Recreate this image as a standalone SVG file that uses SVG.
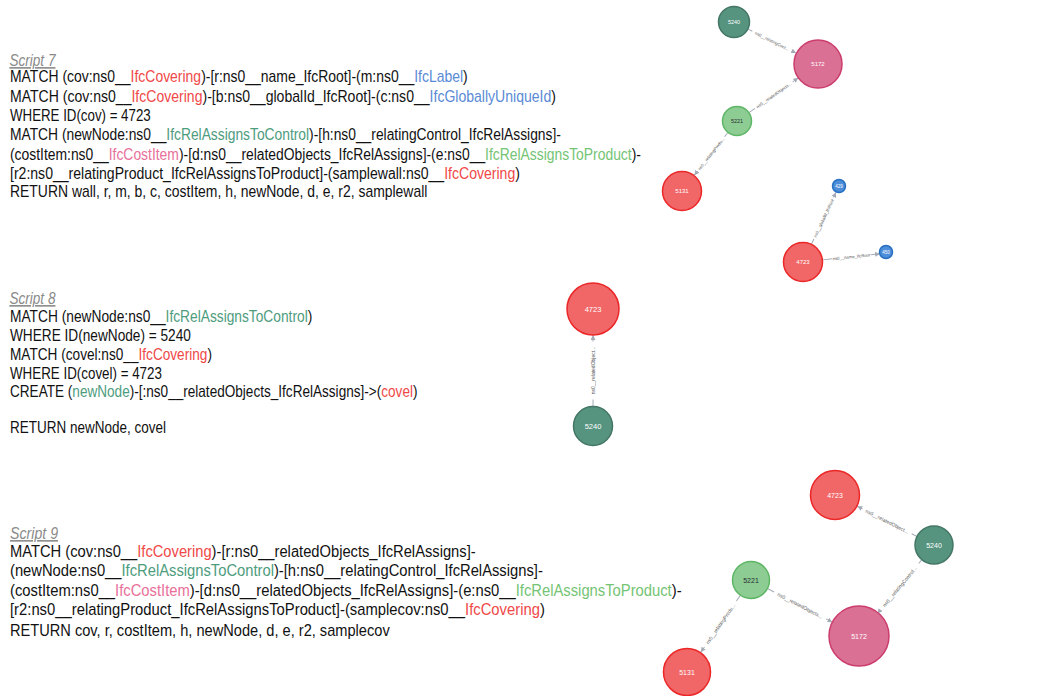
<svg xmlns="http://www.w3.org/2000/svg" width="1058" height="696" viewBox="0 0 1058 696">
<defs>
<marker id="arr" viewBox="0 0 6 6" refX="6" refY="3" markerWidth="5" markerHeight="5" markerUnits="userSpaceOnUse" orient="auto"><path d="M0,0 L6,3 L0,6 z" fill="#A5ABB6"/></marker>
<style>
.q{font-family:"Liberation Sans",Arial,sans-serif;font-size:16px;fill:#111}
.h{font-family:"Liberation Sans",Arial,sans-serif;font-size:16px;fill:#8a8a8a;font-style:italic;text-decoration:underline}
.red{fill:#F04848}.tc{fill:#4E9C7E}.pk{fill:#E8709A}.lg{fill:#74C474}.bl{fill:#5A8AD6}
.e line{stroke:#A5ABB6;stroke-width:1}
.e text{font-family:"Liberation Sans",Arial,sans-serif;fill:#555;text-anchor:middle}
.s text{font-size:4.2px}.b text{font-size:5px}
.n text{font-family:"Liberation Sans",Arial,sans-serif;fill:#fff;text-anchor:middle;dominant-baseline:central}
.red1{fill:#F16667;stroke:#EB2728;stroke-width:1.5}
.dg{fill:#569480;stroke:#447666;stroke-width:1.5}
.pkn{fill:#DA7194;stroke:#CC3C6C;stroke-width:1.5}
.lgn{fill:#8DCC93;stroke:#5DB665;stroke-width:1.5}
.bln{fill:#4C8EDA;stroke:#2870C2;stroke-width:1.5}
</style>
</defs>
<rect width="1058" height="696" fill="#fff"/>
<g id="script7">
<text class="h" transform="scale(0.85,1)" x="11.06" y="66">Script 7</text>
<text class="q" transform="scale(0.872,1)" x="11.47" y="82">MATCH (cov:ns0__<tspan class="red">IfcCovering</tspan>)-[r:ns0__name_IfcRoot]-(m:ns0__<tspan class="bl">IfcLabel</tspan>)</text>
<text class="q" transform="scale(0.878,1)" x="11.39" y="102">MATCH (cov:ns0__<tspan class="red">IfcCovering</tspan>)-[b:ns0__globalId_IfcRoot]-(c:ns0__<tspan class="bl">IfcGloballyUniqueId</tspan>)</text>
<text class="q" transform="scale(0.831,1)" x="12.03" y="121">WHERE ID(cov) = 4723</text>
<text class="q" transform="scale(0.864,1)" x="11.57" y="140">MATCH (newNode:ns0__<tspan class="tc">IfcRelAssignsToControl</tspan>)-[h:ns0__relatingControl_IfcRelAssigns]-</text>
<text class="q" transform="scale(0.868,1)" x="11.52" y="160">(costItem:ns0__<tspan class="pk">IfcCostItem</tspan>)-[d:ns0__relatedObjects_IfcRelAssigns]-(e:ns0__<tspan class="lg">IfcRelAssignsToProduct</tspan>)-</text>
<text class="q" transform="scale(0.879,1)" x="11.38" y="179">[r2:ns0__relatingProduct_IfcRelAssignsToProduct]-(samplewall:ns0__<tspan class="red">IfcCovering</tspan>)</text>
<text class="q" transform="scale(0.871,1)" x="11.48" y="197">RETURN wall, r, m, b, c, costItem, h, newNode, d, e, r2, samplewall</text>
</g>
<g id="script8">
<text class="h" transform="scale(0.85,1)" x="11.06" y="304">Script 8</text>
<text class="q" transform="scale(0.86,1)" x="11.63" y="322">MATCH (newNode:ns0__<tspan class="tc">IfcRelAssignsToControl</tspan>)</text>
<text class="q" transform="scale(0.854,1)" x="11.71" y="341">WHERE ID(newNode) = 5240</text>
<text class="q" transform="scale(0.852,1)" x="11.74" y="360">MATCH (covel:ns0__<tspan class="red">IfcCovering</tspan>)</text>
<text class="q" transform="scale(0.836,1)" x="11.96" y="379">WHERE ID(covel) = 4723</text>
<text class="q" transform="scale(0.849,1)" x="11.78" y="397">CREATE (<tspan class="tc">newNode</tspan>)-[:ns0__relatedObjects_IfcRelAssigns]-&gt;(<tspan class="red">covel</tspan>)</text>
<text class="q" transform="scale(0.844,1)" x="11.85" y="433">RETURN newNode, covel</text>
</g>
<g id="script9">
<text class="h" transform="scale(0.886,1)" x="11.29" y="539">Script 9</text>
<text class="q" transform="scale(0.92,1)" x="10.87" y="557">MATCH (cov:ns0__<tspan class="red">IfcCovering</tspan>)-[r:ns0__relatedObjects_IfcRelAssigns]-</text>
<text class="q" transform="scale(0.923,1)" x="10.83" y="576">(newNode:ns0__<tspan class="tc">IfcRelAssignsToControl</tspan>)-[h:ns0__relatingControl_IfcRelAssigns]-</text>
<text class="q" transform="scale(0.924,1)" x="10.82" y="596">(costItem:ns0__<tspan class="pk">IfcCostItem</tspan>)-[d:ns0__relatedObjects_IfcRelAssigns]-(e:ns0__<tspan class="lg">IfcRelAssignsToProduct</tspan>)-</text>
<text class="q" transform="scale(0.926,1)" x="10.8" y="615">[r2:ns0__relatingProduct_IfcRelAssignsToProduct]-(samplecov:ns0__<tspan class="red">IfcCovering</tspan>)</text>
<text class="q" transform="scale(0.914,1)" x="10.94" y="636">RETURN cov, r, costItem, h, newNode, d, e, r2, samplecov</text>
</g>
<g id="connectors">
<g class="e s">
<g transform="translate(734,22) rotate(26.6)"><line x1="16" y1="0" x2="20.5" y2="0"/><line x1="64.5" y1="0" x2="69.5" y2="0" marker-end="url(#arr)"/><text x="42.5" y="1.5">ns0__relatingCont...</text></g>
<g transform="translate(737,121) rotate(-35.1)"><line x1="15" y1="0" x2="22" y2="0"/><line x1="68" y1="0" x2="75" y2="0" marker-end="url(#arr)"/><text x="45" y="1.5">ns0__relatedObjects...</text></g>
<g transform="translate(737,121) rotate(128.2)"><line x1="15" y1="0" x2="20" y2="0"/><line x1="64" y1="0" x2="69" y2="0" marker-end="url(#arr)"/><text x="42" y="1.5" transform="rotate(180 42 0)">ns0__relatingProdu...</text></g>
<g transform="translate(803,262) rotate(-64.7)"><line x1="20" y1="0" x2="25.5" y2="0"/><line x1="71.5" y1="0" x2="77" y2="0" marker-end="url(#arr)"/><text x="48.5" y="1.5">ns0__globalId_IfcRoot</text></g>
<g transform="translate(803,262) rotate(-6.1)"><line x1="20" y1="0" x2="29.5" y2="0"/><line x1="68" y1="0" x2="77.5" y2="0" marker-end="url(#arr)"/><text x="48.7" y="1.5">ns0__name_IfcRoot</text></g>
</g>
<g class="e b">
<g transform="translate(593,426) rotate(-90)"><line x1="20" y1="0" x2="26.5" y2="0"/><line x1="84.5" y1="0" x2="91" y2="0" marker-end="url(#arr)"/><text x="55.5" y="1.8">ns0__relatedObject...</text></g>
<g transform="translate(934,545) rotate(206.8)"><line x1="19" y1="0" x2="25" y2="0"/><line x1="80" y1="0" x2="85.9" y2="0" marker-end="url(#arr)"/><text x="52.5" y="1.8" transform="rotate(180 52.5 0)">ns0__relatedObject...</text></g>
<g transform="translate(934,545) rotate(129.5)"><line x1="19" y1="0" x2="24" y2="0"/><line x1="84" y1="0" x2="88.9" y2="0" marker-end="url(#arr)"/><text x="54" y="1.8" transform="rotate(180 54 0)">ns0__relatingControl...</text></g>
<g transform="translate(751,580) rotate(27.4)"><line x1="19" y1="0" x2="26" y2="0"/><line x1="84.5" y1="0" x2="91.7" y2="0" marker-end="url(#arr)"/><text x="55.3" y="1.8">ns0__relatedObjects...</text></g>
<g transform="translate(751,580) rotate(124.8)"><line x1="19" y1="0" x2="25.5" y2="0"/><line x1="81.5" y1="0" x2="88" y2="0" marker-end="url(#arr)"/><text x="53.5" y="1.8" transform="rotate(180 53.5 0)">ns0__relatingProdu...</text></g>
</g>
</g>
<g id="g7-5240" class="n"><circle cx="734" cy="22" r="15.5" class="dg"/><text x="734" y="22" font-size="5.5">5240</text></g>
<g id="g7-5172" class="n"><circle cx="818" cy="64" r="24" class="pkn"/><text x="818" y="64" font-size="6">5172</text></g>
<g id="g7-5221" class="n"><circle cx="737" cy="121" r="14.5" class="lgn"/><text x="737" y="121" font-size="5.5" style="fill:#2A2C34">5221</text></g>
<g id="g7-5131" class="n"><circle cx="682" cy="191" r="19.5" class="red1"/><text x="682" y="191" font-size="6">5131</text></g>
<g id="g7-429" class="n"><circle cx="839" cy="186" r="6.5" class="bln"/><text x="839" y="186" font-size="4.5">429</text></g>
<g id="g7-450" class="n"><circle cx="886" cy="252" r="6.5" class="bln"/><text x="886" y="252" font-size="4.5">450</text></g>
<g id="g7-4723" class="n"><circle cx="803" cy="262" r="19.5" class="red1"/><text x="803" y="262" font-size="6">4723</text></g>
<g id="g8-4723" class="n"><circle cx="593" cy="309" r="26" class="red1"/><text x="593" y="309" font-size="7.5">4723</text></g>
<g id="g8-5240" class="n"><circle cx="593" cy="426" r="19.5" class="dg"/><text x="593" y="426" font-size="7.5">5240</text></g>
<g id="g9-4723" class="n"><circle cx="835" cy="495" r="24.5" class="red1"/><text x="835" y="495" font-size="7">4723</text></g>
<g id="g9-5240" class="n"><circle cx="934" cy="545" r="19" class="dg"/><text x="934" y="545" font-size="7">5240</text></g>
<g id="g9-5221" class="n"><circle cx="751" cy="580" r="18.5" class="lgn"/><text x="751" y="580" font-size="7" style="fill:#2A2C34">5221</text></g>
<g id="g9-5172" class="n"><circle cx="859" cy="636" r="30" class="pkn"/><text x="859" y="636" font-size="7">5172</text></g>
<g id="g9-5131" class="n"><circle cx="687" cy="672" r="23.5" class="red1"/><text x="687" y="672" font-size="7">5131</text></g>
</svg>
